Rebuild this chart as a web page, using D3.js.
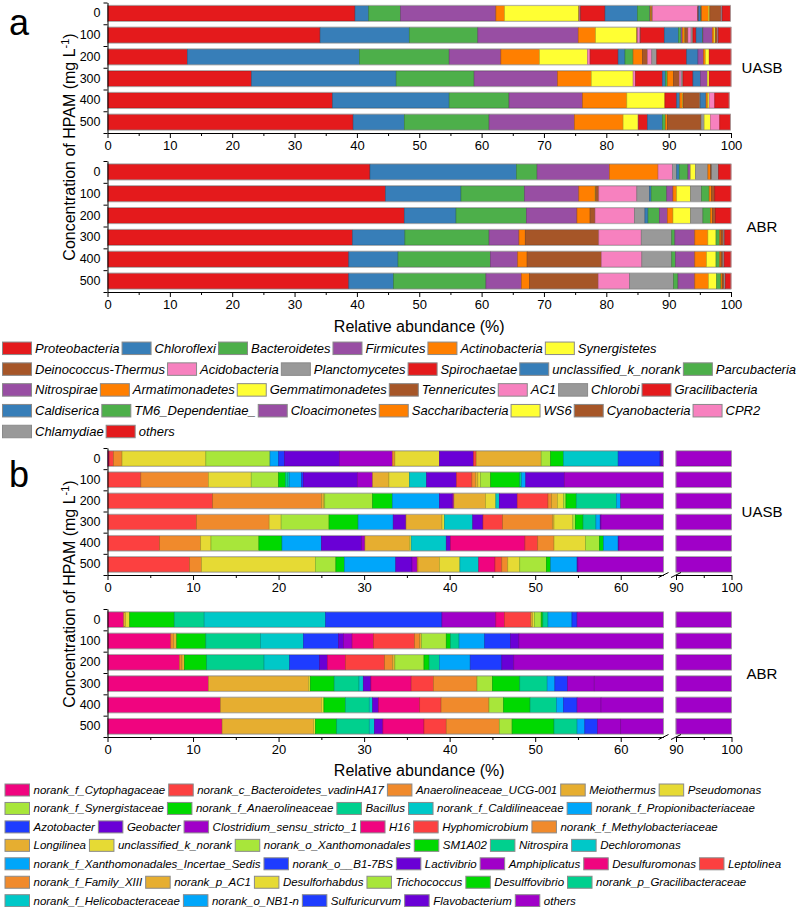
<!DOCTYPE html>
<html>
<head>
<meta charset="utf-8">
<script src="https://cdnjs.cloudflare.com/ajax/libs/d3/7.8.5/d3.min.js"></script>
<style>
  body { margin: 0; background: #fff; }
  text { font-family: "Liberation Sans", Arial, sans-serif; fill: #000; }
</style>
</head>
<body>
<div id="chart"></div>
<script>
// HPAM concentrations (rows of every sub-plot)
const concentrations = ["0", "100", "200", "300", "400", "500"];

// ---- panel a: phylum level ----
const phyla = ["Proteobacteria", "Chloroflexi", "Bacteroidetes", "Firmicutes", "Actinobacteria", "Synergistetes",
  "Deinococcus-Thermus", "Acidobacteria", "Planctomycetes", "Spirochaetae", "unclassified_k_norank", "Parcubacteria",
  "Nitrospirae", "Armatimonadetes", "Gemmatimonadetes", "Tennericutes", "AC1", "Chlorobi", "Gracilibacteria",
  "Caldiserica", "TM6_Dependentiae_", "Cloacimonetes", "Saccharibacteria", "WS6", "Cyanobacteria", "CPR2",
  "Chlamydiae", "others"];
const phylumColors = ["#e41a1c", "#377eb8", "#4daf4a", "#984ea3", "#ff7f00", "#ffff33", "#a65628", "#f781bf", "#999999"];

const phylaUASB = [
  [39.7, 2.2, 5.1, 15.3, 1.4, 11.9, 0.1, 0.1, 0.1, 3.9, 5.2, 2.0, 0.1, 0.1, 0.1, 0.1, 7.2, 0.1, 0.1, 0.3, 0.1, 0.1, 1.1, 0.2, 1.8, 0.1, 0.1, 1.3],
  [34.1, 14.3, 11.0, 16.1, 2.8, 6.6, 0.1, 0.4, 0.1, 3.8, 2.3, 0.4, 0.2, 0.3, 0.1, 0.5, 0.5, 0.3, 0.5, 1.0, 0.1, 1.5, 0.3, 0.2, 0.3, 0.1, 0.1, 2.0],
  [12.8, 27.6, 14.4, 8.3, 6.2, 7.7, 0, 0.4, 0, 4.5, 1.1, 1.3, 0, 1.5, 0, 0.8, 0.7, 0.8, 4.8, 1.8, 0, 0.9, 0.3, 0.6, 0, 0, 0, 3.5],
  [23.1, 23.2, 12.5, 13.4, 5.4, 6.7, 0, 0.4, 0, 4.3, 0.5, 0.3, 0, 1.0, 0, 0.9, 0.3, 0.3, 1.6, 1.2, 0, 1.1, 0, 0.3, 0, 0, 0, 3.5],
  [36.1, 18.7, 9.6, 11.8, 7.1, 6.1, 0, 0, 0, 1.9, 0.5, 0, 0, 0.4, 0.1, 2.7, 0, 0.1, 0, 0.9, 0, 0, 0.3, 0.2, 0, 0.9, 0, 2.3],
  [39.4, 8.2, 13.6, 13.7, 7.8, 2.4, 0, 0.1, 0, 1.4, 2.4, 0.5, 0, 0.3, 0, 5.4, 0, 0.5, 0, 0, 0, 0, 0, 1.0, 0, 1.5, 0, 1.7]
];
const phylaABR = [
  [42.1, 23.5, 3.3, 11.6, 7.8, 0, 0, 2.3, 0.7, 0, 0.4, 1.4, 0.4, 0, 0.8, 0, 0, 2.0, 0, 0, 0, 0, 0.4, 0, 0.2, 0, 1.1, 2.0],
  [44.6, 12.1, 10.2, 8.7, 2.6, 0.1, 0.5, 6.1, 2.0, 0, 0.3, 2.5, 1.0, 0.6, 2.2, 0, 0, 1.8, 0, 0, 1.2, 0, 0.4, 0, 0.5, 0, 0, 2.6],
  [47.6, 8.3, 11.3, 8.1, 2.1, 0, 0.8, 6.3, 1.7, 0, 0.5, 1.8, 1.3, 0.9, 2.8, 0, 0, 2.0, 0, 0, 1.2, 0, 0.3, 0, 0.5, 0, 0, 2.5],
  [39.3, 8.4, 13.5, 4.8, 1.0, 0, 11.8, 6.8, 4.9, 0, 0, 0.5, 3.2, 2.1, 1.3, 0, 0, 0, 0, 0, 0.6, 0, 0.2, 0, 0.4, 0, 0.2, 1.0],
  [38.7, 7.9, 14.8, 4.4, 1.5, 0, 11.9, 6.5, 4.8, 0, 0, 0.6, 3.1, 1.9, 1.5, 0, 0, 0, 0, 0, 0.6, 0, 0.2, 0, 0.3, 0, 0.2, 1.1],
  [38.7, 7.2, 14.8, 5.7, 1.3, 0, 11.0, 5.0, 7.1, 0, 0, 0.7, 2.7, 2.2, 1.3, 0, 0, 0, 0, 0, 0.7, 0, 0.2, 0, 0.3, 0, 0.2, 0.9]
];

// ---- panel b: genus level ----
const genera = ["norank_f_Cytophagaceae", "norank_c_Bacteroidetes_vadinHA17", "Anaerolineaceae_UCG-001", "Meiothermus",
  "Pseudomonas", "norank_f_Synergistaceae", "norank_f_Anaerolineaceae", "Bacillus", "norank_f_Caldilineaceae",
  "norank_f_Propionibacteriaceae", "Azotobacter", "Geobacter", "Clostridium_sensu_stricto_1", "H16", "Hyphomicrobium",
  "norank_f_Methylobacteriaceae", "Longilinea", "unclassified_k_norank", "norank_o_Xanthomonadales", "SM1A02",
  "Nitrospira", "Dechloromonas", "norank_f_Xanthomonadales_Incertae_Sedis", "norank_o__B1-7BS", "Lactivibrio",
  "Amphiplicatus", "Desulfuromonas", "Leptolinea", "norank_f_Family_XIII", "norank_p_AC1", "Desulforhabdus",
  "Trichococcus", "Desulffovibrio", "norank_p_Gracilibacteraceae", "norank_f_Helicobacteraceae", "norank_o_NB1-n",
  "Sulfuricurvum", "Flavobacterium", "others"];
const genusColors = ["#f0047f", "#fc4040", "#f08a2c", "#e6ae30", "#e6da34", "#a8e63a", "#00d900", "#00d08e",
  "#00c8c8", "#00a6fa", "#1e3cff", "#6a00d6", "#a000c8"];

const generaUASB = [
  [0.2, 0.5, 1.0, 0, 9.8, 7.5, 0, 0, 0, 1.0, 0.7, 6.4, 6.2, 0, 0, 0.3, 0, 5.2, 0, 0, 0, 0, 0, 0, 4.0, 0, 0, 0.3, 0, 7.6, 0, 1.1, 1.5, 0, 6.4, 0, 4.9, 0.2, 35.2],
  [0, 3.9, 7.9, 0, 5.0, 3.2, 0.8, 0.3, 0.2, 1.4, 0.2, 6.3, 1.8, 0, 0, 0, 1.9, 2.4, 0, 0, 0, 2.0, 0, 0, 3.5, 0, 0, 1.8, 0.4, 0.3, 0.3, 1.2, 3.4, 0.2, 0, 0.5, 0, 4.5, 46.6],
  [0, 12.3, 12.7, 0.3, 0.1, 5.6, 2.3, 0, 0, 5.5, 0, 1.5, 0.2, 0, 0, 0, 3.7, 1.2, 0, 0, 0, 0.4, 0, 0, 2.1, 0, 0, 3.6, 0.4, 0.7, 0.7, 0.3, 1.2, 4.7, 0, 0.5, 0, 0, 40.0],
  [0, 10.4, 8.5, 0, 1.4, 5.6, 3.4, 0, 0, 4.1, 0, 1.5, 0, 0, 0, 0, 4.2, 0.3, 0, 0, 0, 3.3, 0, 0, 1.2, 0, 0, 2.3, 5.8, 0.2, 2.2, 0.3, 0.9, 1.5, 0, 0.5, 0, 0.1, 42.3],
  [0, 6.1, 4.8, 0, 1.2, 5.6, 2.7, 0, 0, 4.6, 0, 4.7, 0.4, 0, 0, 0, 5.2, 0.2, 0, 0, 0, 4.1, 0, 0, 0.5, 0, 8.7, 1.5, 1.9, 0, 3.7, 1.6, 0.5, 0, 0, 1.7, 0, 0.1, 40.2],
  [0, 9.6, 1.4, 0, 13.3, 2.4, 1.0, 0, 0, 6.0, 0, 1.9, 0.6, 0, 0, 0.1, 2.5, 2.4, 0, 0, 0, 2.2, 0, 0, 0, 0, 1.9, 0.8, 0.7, 0, 1.4, 3.1, 0.5, 0, 0, 3.1, 0, 0.1, 45.0]
];
const generaABR = [
  [1.9, 0, 0, 0.2, 0.5, 0, 5.2, 3.5, 14.2, 0, 13.6, 0, 6.3, 1.0, 3.1, 0, 0.2, 0.2, 0.8, 0.2, 0.6, 0, 2.8, 0.6, 0, 0, 0, 0, 0, 0, 0, 0, 0, 0, 0, 0, 0, 0, 45.1],
  [7.4, 0, 0.3, 0.4, 0, 0, 3.4, 6.4, 5.0, 0, 4.1, 0.6, 1.0, 2.5, 4.8, 0.6, 0.2, 0, 2.9, 0.5, 1.0, 0, 3.0, 3.0, 1.0, 0, 0, 0, 0, 0, 0, 0, 0, 0, 0, 0, 0, 0, 51.9],
  [8.4, 0, 0.3, 0.3, 0, 0, 2.6, 6.7, 3.0, 0, 3.5, 0.9, 0, 2.1, 4.6, 0.9, 0.3, 0, 3.4, 0.6, 1.2, 0, 3.6, 3.7, 1.4, 0, 0, 0, 0, 0, 0, 0, 0, 0, 0, 0, 0, 0, 52.5],
  [11.8, 0, 0, 11.7, 0.2, 0, 2.8, 2.9, 0.5, 0, 0, 0.9, 0, 4.7, 2.6, 5.1, 0, 0, 1.8, 3.2, 3.2, 0, 0.9, 1.5, 0, 3.1, 0, 0, 0, 0, 0, 0, 0, 0, 0, 0, 0, 0, 43.1],
  [13.2, 0, 0, 11.8, 0.3, 0, 2.5, 2.8, 0.4, 0, 0, 0.7, 0, 4.8, 2.5, 5.6, 0, 0, 1.7, 3.1, 3.1, 0, 0.8, 1.6, 0, 2.8, 0, 0, 0, 0, 0, 0, 0, 0, 0, 0, 0, 0, 42.3],
  [13.4, 0, 0, 10.7, 0.2, 0, 2.5, 3.8, 0.6, 0, 0, 1.0, 0, 4.8, 2.6, 6.2, 0, 0, 1.5, 4.9, 2.7, 0, 0.9, 1.5, 0, 2.7, 0, 0, 0, 0, 0, 0, 0, 0, 0, 0, 0, 0, 40.0]
];

// axis ticks
const ticksA = [0, 10, 20, 30, 40, 50, 60, 70, 80, 90, 100];
const minorA = [5, 15, 25, 35, 45, 55, 65, 75, 85, 95];
const ticksB1 = [0, 10, 20, 30, 40, 50, 60];
const minorB1 = [5, 15, 25, 35, 45, 55];
const ticksB2 = [90, 100];
const minorB2 = [95];

// how many legend entries sit on each legend line
const legendRowsA = [6, 6, 7, 7, 2];
const legendRowsB = [5, 5, 6, 6, 6, 6, 5];

const svg = d3.select("#chart").append("svg")
    .attr("width", 799)
    .attr("height", 907);

// x scales: panel a is continuous, panel b has a broken axis (0-65 | 90-100)
const xA = d3.scaleLinear().domain([0, 100]).range([107.5, 731]);
const xB1 = d3.scaleLinear().domain([0, 65]).range([107.5, 663.5]);
const xB2 = d3.scaleLinear().domain([90, 100]).range([676, 731.5]);

const piecesA = [{ scale: xA, lo: 0, hi: 100, major: ticksA, minor: minorA }];
const piecesB = [
    { scale: xB1, lo: 0, hi: 65, major: ticksB1, minor: minorB1 },
    { scale: xB2, lo: 90, hi: 100, major: ticksB2, minor: minorB2 }
];

function styleAxisText(sel, size) {
    sel.selectAll("text")
        .attr("font-size", size)
        .attr("font-family", "Liberation Sans, Arial, sans-serif")
        .attr("fill", "#000");
    sel.selectAll("path, line").attr("stroke", "#000");
}

function drawStack(data, colors, pieces, top, bottom, name) {
    let g = svg.append("g");

    let y = d3.scaleBand()
        .domain(concentrations)
        .range([top, bottom])
        .paddingInner(0.3)
        .paddingOuter(0.15);

    data.forEach(function(values, r) {
        let cum = [0].concat(Array.from(d3.cumsum(values)));
        let total = cum[cum.length - 1];
        let segs = values.map(function(v, i) { return { i: i, s: cum[i], e: cum[i + 1] }; })
            .filter(function(d) { return d.e > d.s; });
        let row = g.append("g");
        let yy = y(concentrations[r]);

        pieces.forEach(function(p) {
            let part = segs.map(function(d) {
                return { i: d.i, s: Math.max(d.s, p.lo), e: Math.min(d.e, p.hi) };
            }).filter(function(d) { return d.e > d.s; });

            row.selectAll(null)
                .data(part)
                .enter().append("rect")
                .attr("x", function(d) { return p.scale(d.s); })
                .attr("y", yy)
                .attr("width", function(d) { return p.scale(d.e) - p.scale(d.s); })
                .attr("height", y.bandwidth())
                .attr("fill", function(d) { return colors[d.i % colors.length]; })
                .attr("stroke", function(d) { return d3.color(colors[d.i % colors.length]).darker(0.9); })
                .attr("stroke-width", 0.6);

            // light grey frame round each bar piece
            row.append("rect")
                .attr("x", p.scale(p.lo))
                .attr("y", yy - 0.5)
                .attr("width", p.scale(Math.min(total, p.hi)) - p.scale(p.lo))
                .attr("height", y.bandwidth() + 1)
                .attr("fill", "none")
                .attr("stroke", "#a9a9a9")
                .attr("stroke-width", 0.8);
        });
    });

    // x axes (major with labels, minor without)
    pieces.forEach(function(p) {
        let ax = g.append("g")
            .attr("transform", "translate(0," + bottom + ")")
            .call(d3.axisBottom(p.scale)
                .tickValues(p.major)
                .tickSizeInner(5)
                .tickSizeOuter(0)
                .tickPadding(3)
                .tickFormat(d3.format("d")));
        styleAxisText(ax, 13);

        let mn = g.append("g")
            .attr("transform", "translate(0," + bottom + ")")
            .call(d3.axisBottom(p.scale).tickValues(p.minor).tickSize(3).tickFormat(""));
        mn.select(".domain").remove();
        mn.selectAll("line").attr("stroke", "#000");
    });

    // break marks for the broken axis
    if (pieces.length > 1) {
        let bx = [pieces[0].scale(pieces[0].hi), pieces[1].scale(pieces[1].lo)];
        g.selectAll(".brk")
            .data(bx)
            .enter().append("line")
            .attr("class", "brk")
            .attr("x1", function(d) { return d - 5; })
            .attr("x2", function(d) { return d + 5; })
            .attr("y1", bottom + 2.5)
            .attr("y2", bottom - 2.5)
            .attr("stroke", "#000")
            .attr("stroke-width", 1);
    }

    // y axis: ticks between rows, labels at row centres
    let yLin = d3.scaleLinear().domain([0, 6]).range([top, bottom]);
    let ay = g.append("g")
        .attr("transform", "translate(107.5,0)")
        .call(d3.axisLeft(yLin).tickValues(d3.range(7)).tickSize(4).tickSizeOuter(0).tickFormat(""));
    styleAxisText(ay, 13);

    let al = g.append("g")
        .attr("transform", "translate(107.5,0)")
        .call(d3.axisLeft(y).tickSize(0).tickPadding(7));
    al.select(".domain").remove();
    styleAxisText(al, 12.5);

    g.append("text")
        .attr("x", 762)
        .attr("y", (top + bottom) / 2)
        .attr("text-anchor", "middle")
        .attr("dominant-baseline", "central")
        .attr("font-size", 15)
        .text(name);
}

function drawTitles(letter, letterY, midY, xLabelY) {
    svg.append("text")
        .attr("x", 9)
        .attr("y", letterY)
        .attr("font-size", 36)
        .text(letter);

    let t = svg.append("text")
        .attr("transform", "translate(75," + midY + ") rotate(-90)")
        .attr("text-anchor", "middle")
        .attr("font-size", 16);
    t.append("tspan").text("Concentration of HPAM (mg L");
    t.append("tspan").attr("dy", -6).attr("font-size", 11).text("-1");
    t.append("tspan").attr("dy", 6).text(")");

    svg.append("text")
        .attr("x", (xA(0) + xA(100)) / 2)
        .attr("y", xLabelY)
        .attr("text-anchor", "middle")
        .attr("font-size", 16)
        .text("Relative abundance (%)");
}

function drawLegend(names, colors, rowCounts, o) {
    let g = svg.append("g");
    let k = 0;
    rowCounts.forEach(function(n, r) {
        let x = o.x0;
        let cy = o.y0 + r * o.dy;
        for (let j = 0; j < n; j++, k++) {
            g.append("rect")
                .attr("x", x)
                .attr("y", cy - o.h / 2)
                .attr("width", o.w)
                .attr("height", o.h)
                .attr("fill", colors[k % colors.length])
                .attr("stroke", "#8a8a8a")
                .attr("stroke-width", 1);
            let t = g.append("text")
                .attr("x", x + o.w + o.gap)
                .attr("y", cy)
                .attr("dominant-baseline", "central")
                .attr("font-size", o.size)
                .attr("font-style", "italic")
                .text(names[k]);
            x += o.w + o.gap + t.node().getComputedTextLength() + o.space;
        }
    });
}

// panel a
drawStack(phylaUASB, phylumColors, piecesA, 2.5, 133, "UASB");
drawStack(phylaABR, phylumColors, piecesA, 161, 292, "ABR");
drawTitles("a", 35, 147, 332);
drawLegend(phyla, phylumColors, legendRowsA, { x0: 2.5, y0: 348.3, dy: 20.8, w: 29, h: 12.5, gap: 3.5, space: 2.5, size: 13 });

// panel b
drawStack(generaUASB, genusColors, piecesB, 448, 575, "UASB");
drawStack(generaABR, genusColors, piecesB, 609, 737, "ABR");
drawTitles("b", 487, 594, 776);
drawLegend(genera, genusColors, legendRowsB, { x0: 5, y0: 790, dy: 18.45, w: 24.5, h: 12, gap: 4, space: 3.5, size: 11.5 });
</script>
</body>
</html>
